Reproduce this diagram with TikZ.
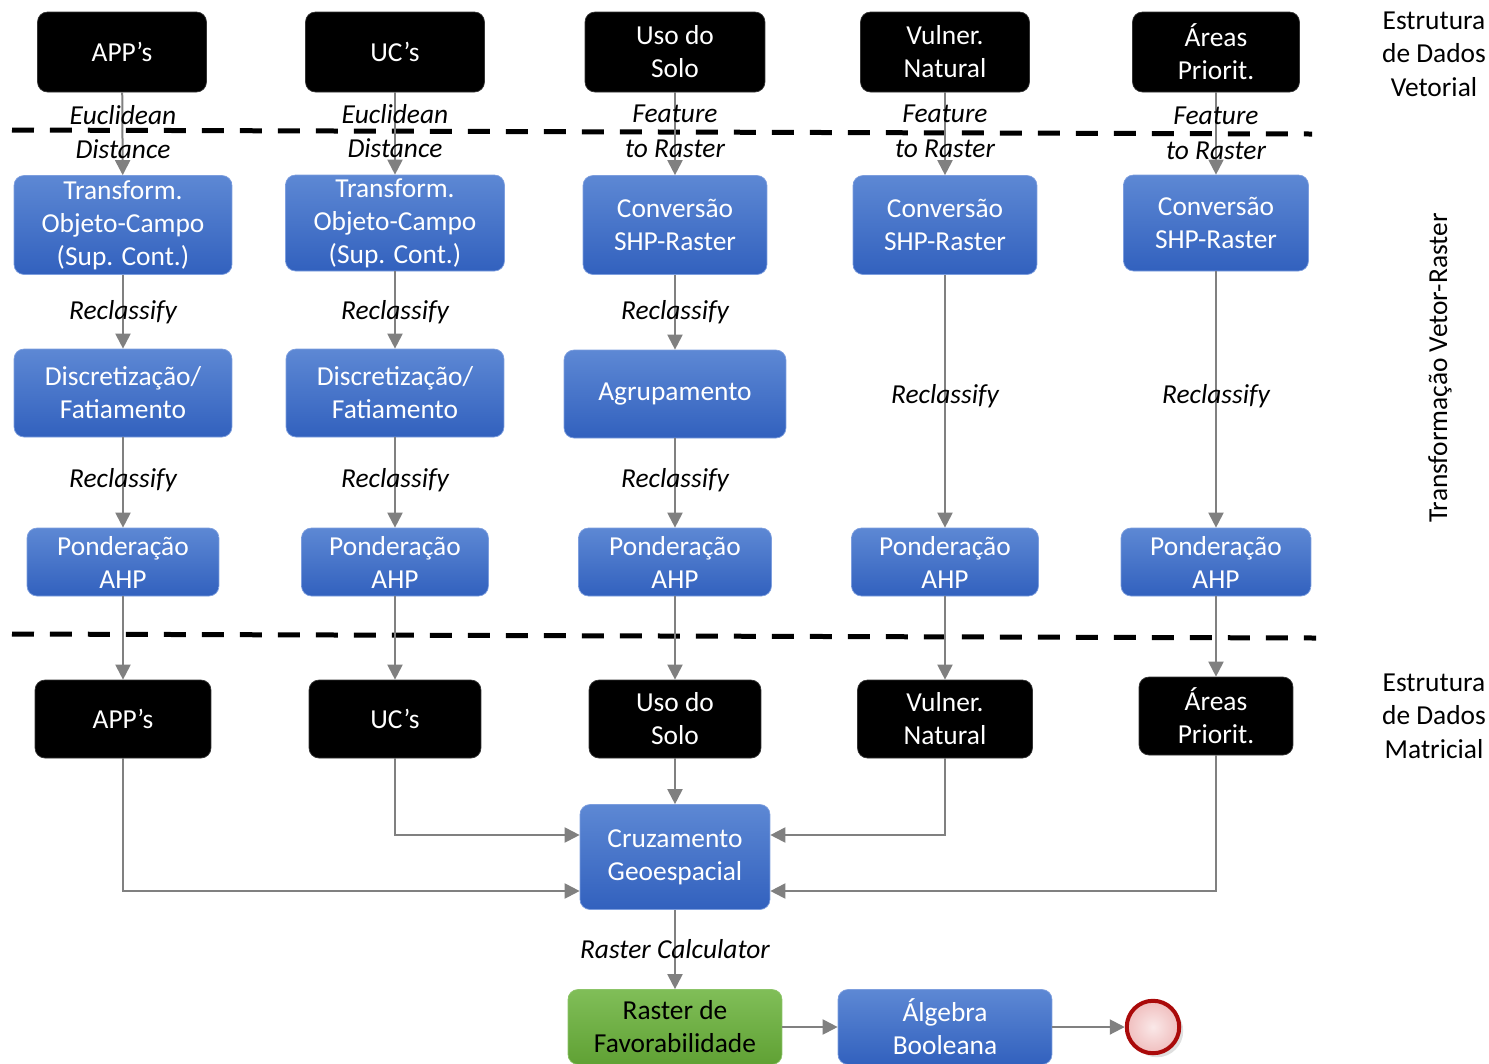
\documentclass[tikz,border=0pt]{standalone}
\usepackage{fontspec}
\setmainfont{Carlito}
\usetikzlibrary{arrows.meta,shadows}

\definecolor{boxtop}{RGB}{93,136,212}
\definecolor{boxbot}{RGB}{50,97,190}
\definecolor{boxline}{RGB}{125,158,222}
\definecolor{greentop}{RGB}{128,190,88}
\definecolor{greenbot}{RGB}{96,161,52}
\definecolor{greenline}{RGB}{140,196,104}
\definecolor{endred}{RGB}{170,10,10}
\definecolor{endfill}{RGB}{240,190,190}
\definecolor{flowgray}{RGB}{128,128,128}

\begin{document}
\begin{tikzpicture}[x=0.02cm,y=-0.02cm,
  font=\fontsize{15.6}{18.8}\selectfont,
  layerbox/.style={draw=black!80,fill=black,text=white,rounded corners=0.2cm,
    inner sep=0pt,align=center,minimum height=1.6cm},
  procbox/.style={draw=boxline,top color=boxtop,bottom color=boxbot,text=white,
    rounded corners=0.2cm,inner sep=0pt,align=center},
  resultbox/.style={draw=greenline,top color=greentop,bottom color=greenbot,text=black,
    rounded corners=0.2cm,inner sep=0pt,align=center},
  flow/.style={draw=flowgray,line width=0.04cm,-{Triangle[length=0.3cm,width=0.3cm]}},
  toollabel/.style={font=\fontsize{15.6}{19.8}\selectfont\itshape,align=center},
  sidelabel/.style={align=center,font=\fontsize{15.6}{19}\selectfont},
  layerline/.style={line width=0.1cm,dash pattern=on 0.44cm off 0.32cm}]
\useasboundingbox (0,0) rectangle (1489,1063);

% vector input layers
\node[layerbox,minimum width=3.38cm] (vapp) at (122,52) {APP’s};
\node[layerbox,minimum width=3.58cm] (vuc) at (395,52) {UC’s};
\node[layerbox,minimum width=3.6cm] (vuso) at (675,52) {Uso do\\Solo};
\node[layerbox,minimum width=3.38cm] (vvul) at (945,52) {Vulner.\\Natural};
\node[layerbox,minimum width=3.34cm] (vare) at (1216,52) {Áreas\\Priorit.};

% conversion step
\node[procbox,minimum width=4.36cm,minimum height=1.98cm] (tapp) at (123,225) {Transform.\\Objeto-Campo\\(Sup. Cont.)};
\node[procbox,minimum width=4.38cm,minimum height=1.92cm] (tuc) at (395,223) {Transform.\\Objeto-Campo\\(Sup. Cont.)};
\node[procbox,minimum width=3.68cm,minimum height=1.98cm] (cuso) at (675,225) {Conversão\\SHP-Raster};
\node[procbox,minimum width=3.68cm,minimum height=1.98cm] (cvul) at (945,225) {Conversão\\SHP-Raster};
\node[procbox,minimum width=3.7cm,minimum height=1.92cm] (care) at (1216,223) {Conversão\\SHP-Raster};

% classes
\node[procbox,minimum width=4.36cm,minimum height=1.76cm] (dapp) at (123,393) {Discretização/\\Fatiamento};
\node[procbox,minimum width=4.36cm,minimum height=1.76cm] (duc) at (395,393) {Discretização/\\Fatiamento};
\node[procbox,minimum width=4.44cm,minimum height=1.76cm] (guso) at (675,394) {Agrupamento};

% weights
\node[procbox,minimum width=3.84cm,minimum height=1.36cm] (papp) at (123,562) {Ponderação\\AHP};
\node[procbox,minimum width=3.74cm,minimum height=1.36cm] (puc) at (395,562) {Ponderação\\AHP};
\node[procbox,minimum width=3.86cm,minimum height=1.36cm] (puso) at (675,562) {Ponderação\\AHP};
\node[procbox,minimum width=3.74cm,minimum height=1.36cm] (pvul) at (945,562) {Ponderação\\AHP};
\node[procbox,minimum width=3.8cm,minimum height=1.36cm] (pare) at (1216,562) {Ponderação\\AHP};

% raster layers
\node[layerbox,minimum width=3.52cm,minimum height=1.56cm] (rapp) at (123,719) {APP’s};
\node[layerbox,minimum width=3.44cm,minimum height=1.56cm] (ruc) at (395,719) {UC’s};
\node[layerbox,minimum width=3.44cm,minimum height=1.56cm] (ruso) at (675,719) {Uso do\\Solo};
\node[layerbox,minimum width=3.5cm,minimum height=1.56cm] (rvul) at (945,719) {Vulner.\\Natural};
\node[layerbox,minimum width=3.08cm,minimum height=1.56cm] (rare) at (1216,716) {Áreas\\Priorit.};

\node[procbox,minimum width=3.8cm,minimum height=2.1cm] (cruz) at (675,857) {Cruzamento\\Geoespacial};
\node[resultbox,minimum width=4.28cm,minimum height=1.5cm] (fav) at (675,1027) {Raster de\\Favorabilidade};
\node[procbox,minimum width=4.28cm,minimum height=1.5cm] (alg) at (945,1027) {Álgebra\\Booleana};
\node[circle,draw=endred,line width=0.08cm,inner color=endfill!35,outer color=endfill,
  minimum size=1.05cm,drop shadow={opacity=0.25,shadow xshift=0.08cm,shadow yshift=-0.08cm}] (fim) at (1153,1027) {};

% layer separators
\draw[layerline] (12,130) -- (1312,134);
\draw[layerline] (12,634) -- (1316,638);

% arrows
\draw[flow] (vapp) -- (tapp);
\draw[flow] (vuc) -- (tuc);
\draw[flow] (vuso) -- (cuso);
\draw[flow] (vvul) -- (cvul);
\draw[flow] (vare) -- (care);
\draw[flow] (tapp) -- (dapp);
\draw[flow] (tuc) -- (duc);
\draw[flow] (cuso) -- (guso);
\draw[flow] (dapp) -- (papp);
\draw[flow] (duc) -- (puc);
\draw[flow] (guso) -- (puso);
\draw[flow] (cvul) -- (pvul);
\draw[flow] (care) -- (pare);
\draw[flow] (papp) -- (rapp);
\draw[flow] (puc) -- (ruc);
\draw[flow] (puso) -- (ruso);
\draw[flow] (pvul) -- (rvul);
\draw[flow] (pare) -- (rare);
\draw[flow] (ruso) -- (cruz);
\draw[flow] (ruc) |- (cruz.west |- 0,835);
\draw[flow] (rapp) |- (cruz.west |- 0,891);
\draw[flow] (rvul) |- (cruz.east |- 0,835);
\draw[flow] (rare) |- (cruz.east |- 0,891);
\draw[flow] (cruz) -- (fav);
\draw[flow] (fav) -- (alg);
\draw[flow] (alg) -- (fim);

% tool labels
\node[toollabel] (lab1) at (123,132) {Euclidean\\Distance};
\node[toollabel] (lab2) at (395,131) {Euclidean\\Distance};
\node[toollabel] (lab3) at (675,131) {Feature\\to Raster};
\node[toollabel] (lab4) at (945,131) {Feature\\to Raster};
\node[toollabel] (lab5) at (1216,133) {Feature\\to Raster};
\node[toollabel] (rc1) at (123,312) {Reclassify};
\node[toollabel] (rc2) at (395,312) {Reclassify};
\node[toollabel] (rc3) at (675,312) {Reclassify};
\node[toollabel] (rc4) at (123,480) {Reclassify};
\node[toollabel] (rc5) at (395,480) {Reclassify};
\node[toollabel] (rc6) at (675,480) {Reclassify};
\node[toollabel] (rc7) at (945,396) {Reclassify};
\node[toollabel] (rc8) at (1216,396) {Reclassify};
\node[toollabel] (calc) at (675,949) {Raster Calculator};

% layer names
\node[sidelabel] (vet) at (1434,54) {Estrutura\\de Dados\\Vetorial};
\node[sidelabel,rotate=90] (trans) at (1440,368) {Transformação Vetor-Raster};
\node[sidelabel] (mat) at (1434,716) {Estrutura\\de Dados\\Matricial};
\end{tikzpicture}
\end{document}
